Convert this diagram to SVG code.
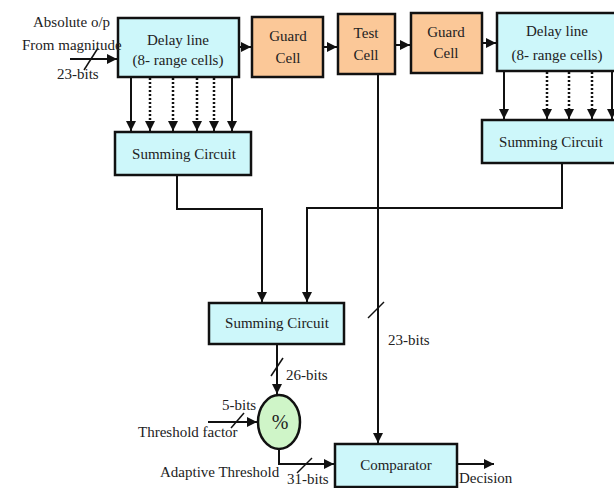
<svg xmlns="http://www.w3.org/2000/svg" width="614" height="488" viewBox="0 0 614 488">
<defs>
<style>
.cy{fill:#cdf7fa;stroke:#111;stroke-width:2.5}
.or{fill:#fbc898;stroke:#111;stroke-width:2.5}
.t{font-family:"Liberation Serif","Times New Roman",serif;font-size:15px;fill:#222}
.c{text-anchor:middle}
.w{stroke:#111;stroke-width:2;fill:none}
.d{stroke:#111;stroke-width:2.5;fill:none;stroke-dasharray:2,2}
.s{stroke:#111;stroke-width:1.5;fill:none}
</style>
<marker id="ah" markerUnits="userSpaceOnUse" markerWidth="10" markerHeight="10" refX="10" refY="5" orient="auto" viewBox="0 0 10 10">
<path d="M0,0 L10,5 L0,10 z" fill="#111"/>
</marker>
</defs>
<rect width="614" height="488" fill="#fff"/>

<g id="connectors">
<line class="w" x1="70" y1="59" x2="117" y2="59" marker-end="url(#ah)"/>
<line class="w" x1="239" y1="47" x2="251" y2="47" marker-end="url(#ah)"/>
<line class="w" x1="323" y1="47" x2="337" y2="47" marker-end="url(#ah)"/>
<line class="w" x1="395" y1="45" x2="410" y2="45" marker-end="url(#ah)"/>
<line class="w" x1="482" y1="43" x2="496" y2="43" marker-end="url(#ah)"/>
<line class="w" x1="131" y1="78" x2="131" y2="131" marker-end="url(#ah)"/>
<line class="d" x1="150" y1="78" x2="150" y2="125"/><line class="w" x1="150" y1="122" x2="150" y2="131" marker-end="url(#ah)"/>
<line class="d" x1="173" y1="78" x2="173" y2="125"/><line class="w" x1="173" y1="122" x2="173" y2="131" marker-end="url(#ah)"/>
<line class="d" x1="197" y1="78" x2="197" y2="125"/><line class="w" x1="197" y1="122" x2="197" y2="131" marker-end="url(#ah)"/>
<line class="d" x1="214" y1="78" x2="214" y2="125"/><line class="w" x1="214" y1="122" x2="214" y2="131" marker-end="url(#ah)"/>
<line class="w" x1="232" y1="78" x2="232" y2="131" marker-end="url(#ah)"/>
<line class="w" x1="504" y1="72" x2="504" y2="119" marker-end="url(#ah)"/>
<line class="d" x1="547" y1="72" x2="547" y2="113"/><line class="w" x1="547" y1="110" x2="547" y2="119" marker-end="url(#ah)"/>
<line class="d" x1="569" y1="72" x2="569" y2="113"/><line class="w" x1="569" y1="110" x2="569" y2="119" marker-end="url(#ah)"/>
<line class="d" x1="592" y1="72" x2="592" y2="113"/><line class="w" x1="592" y1="110" x2="592" y2="119" marker-end="url(#ah)"/>
<line class="w" x1="612" y1="72" x2="612" y2="119" marker-end="url(#ah)"/>
<polyline class="w" points="177,176 177,209 262,209 262,302" marker-end="url(#ah)"/>
<polyline class="w" points="562,164 562,208 307,208 307,302" marker-end="url(#ah)"/>
<line class="w" x1="378" y1="75" x2="378" y2="443" marker-end="url(#ah)"/>
<line class="w" x1="277" y1="345" x2="277" y2="394" marker-end="url(#ah)"/>
<line class="w" x1="208" y1="422" x2="257" y2="422" marker-end="url(#ah)"/>
<polyline class="w" points="279,449 279,464 334,464" marker-end="url(#ah)"/>
<line class="w" x1="457" y1="464" x2="494" y2="464" marker-end="url(#ah)"/>
<line class="s" x1="84" y1="70" x2="98" y2="48"/>
<line class="s" x1="271" y1="376" x2="283" y2="358"/>
<line class="s" x1="231" y1="428" x2="244" y2="413"/>
<line class="s" x1="297" y1="473" x2="312" y2="458"/>
<line class="s" x1="368" y1="318" x2="384" y2="302"/>
</g>

<g id="delay1"><rect class="cy" x="118" y="18" width="121" height="59"/>
<text class="t c" x="178" y="45">Delay line</text><text class="t c" x="178" y="65">(8- range cells)</text></g>
<g id="guard1"><rect class="or" x="252" y="17" width="71" height="60"/>
<text class="t c" x="288" y="41">Guard</text><text class="t c" x="288" y="63">Cell</text></g>
<g id="test"><rect class="or" x="338" y="14" width="57" height="60"/>
<text class="t c" x="366" y="38">Test</text><text class="t c" x="366" y="60">Cell</text></g>
<g id="guard2"><rect class="or" x="411" y="13" width="71" height="60"/>
<text class="t c" x="446" y="37">Guard</text><text class="t c" x="446" y="58">Cell</text></g>
<g id="delay2"><rect class="cy" x="497" y="13" width="125" height="58"/>
<text class="t c" x="557" y="36">Delay line</text><text class="t c" x="557" y="60">(8- range cells)</text></g>
<g id="sum1"><rect class="cy" x="115" y="132" width="136" height="43"/>
<text class="t c" x="184" y="159">Summing Circuit</text></g>
<g id="sum2"><rect class="cy" x="482" y="120" width="140" height="43"/>
<text class="t c" x="551" y="147">Summing Circuit</text></g>
<g id="sum3"><rect class="cy" x="209" y="303" width="135" height="41"/>
<text class="t c" x="277" y="328">Summing Circuit</text></g>
<g id="divider"><ellipse cx="279" cy="422" rx="21" ry="27" fill="#cff5c8" stroke="#111" stroke-width="2.5"/>
<text class="t c" x="280" y="429" style="font-size:20px">%</text></g>
<g id="comparator"><rect class="cy" x="335" y="444" width="122" height="43"/>
<text class="t c" x="396" y="470">Comparator</text></g>

<g id="labels">
<text class="t" x="33" y="27">Absolute o/p</text>
<text class="t" x="22" y="50">From magnitude</text>
<text class="t" x="57" y="79">23-bits</text>
<text class="t" x="286" y="380">26-bits</text>
<text class="t" x="222" y="410">5-bits</text>
<text class="t" x="138" y="437">Threshold factor</text>
<text class="t" x="160" y="477">Adaptive Threshold</text>
<text class="t" x="287" y="484">31-bits</text>
<text class="t" x="388" y="345">23-bits</text>
<text class="t" x="459" y="483">Decision</text>
</g>
</svg>
